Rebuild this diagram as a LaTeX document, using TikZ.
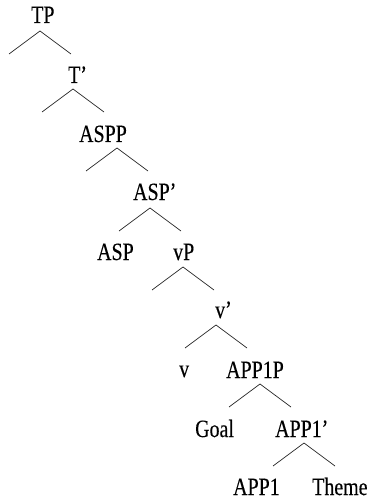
\documentclass[tikz,border=0pt]{standalone}
\usepackage{fontspec}
\setmainfont{Liberation Serif}[FakeStretch=0.8,FakeBold=0.25]
\begin{document}
\begin{tikzpicture}[x=1bp,y=-1bp,
  lbl/.style={anchor=base west,inner sep=0pt,font=\fontsize{25}{28}\selectfont},
  branch/.style={line width=0.7bp,draw=black!85}]
\useasboundingbox (0,0) rectangle (374,499);

% node labels (left edge, baseline)
\node[lbl] (tp)    at (31,23)  {TP};
\node[lbl] (tbar)  at (68,83)  {T’};
\node[lbl] (aspp)  at (79,142) {ASPP};
\node[lbl] (aspbar) at (133,200) {ASP’};
\node[lbl] (asp)   at (97,260) {ASP};
\node[lbl] (vp)    at (173,260) {vP};
\node[lbl] (vbar)  at (215,318) {v’};
\node[lbl] (v)     at (179,377) {v};
\node[lbl] (applp) at (226,378) {APP1P};
\node[lbl] (goal)  at (195,437) {Goal};
\node[lbl] (applbar) at (275,437) {APP1’};
\node[lbl] (appl)  at (233,495) {APP1};
\node[lbl] (theme) at (312,495) {Theme};

% branching points: apex of each fork and its two ends
\foreach \n/\x/\y in {tp/40/31, tbar/73/89, aspp/117/148, aspbar/150/208,
                      vp/183/267, vbar/216/325, applp/260/384, applbar/304/443} {
  \coordinate (\n-top) at (\x,\y);
  \coordinate (\n-l) at (\x-31,\y+23);
  \coordinate (\n-r) at (\x+31,\y+23);
  \draw[branch] (\n-l) -- (\n-top) -- (\n-r);
}
\end{tikzpicture}
\end{document}
